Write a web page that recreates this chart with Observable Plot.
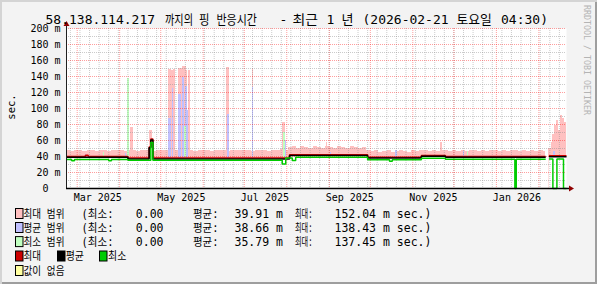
<!DOCTYPE html>
<html><head><meta charset="utf-8">
<script src="https://cdn.jsdelivr.net/npm/d3@7"></script>
<script src="https://cdn.jsdelivr.net/npm/@observablehq/plot@0.6"></script>
<style>
html,body{margin:0;padding:0;background:#f3f3f3;}
#chart{position:relative;width:597px;height:284px;background:#f3f3f3;overflow:hidden;
 box-shadow: inset 2px 2px 0 #d4d4d4, inset -2px -2px 0 #9e9e9e;}
#chart > svg{position:absolute;left:0;top:0;}
</style></head><body><div id="chart"></div>
<script>
// ---------------- data ----------------
const START = "2025-02-21T04:30Z";
const END = "2026-02-21T04:30Z";
const GAP_START = "2026-02-06T00:00Z";

// step lines (value holds from each time until the next)
const lineTimes = [
"2025-02-21T04:30Z","2025-02-25T00:00Z","2025-02-27T00:00Z","2025-03-07T00:00Z","2025-03-09T00:00Z",
"2025-03-24T00:00Z","2025-03-26T00:00Z","2025-04-07T00:00Z","2025-04-22T12:00Z","2025-04-23T18:00Z",
"2025-04-25T06:00Z","2025-07-28T16:00Z","2025-07-31T06:00Z","2025-08-03T00:00Z","2025-08-05T00:00Z",
"2025-08-07T12:00Z","2025-09-29T00:00Z","2025-10-15T00:00Z","2025-10-17T00:00Z","2025-11-07T06:00Z",
"2025-11-24T18:00Z","2026-01-14T12:00Z","2026-01-15T12:00Z","2026-02-06T00:00Z","2026-02-07T00:00Z",
"2026-02-08T09:00Z","2026-02-11T06:00Z","2026-02-14T04:30Z","2026-02-19T00:00Z","2026-02-21T04:30Z"];
const maxLine = [40.0,40.0,40.0,41.5,40.0, 40.0,40.0,38.0,51.8,62.0, 38.0,38.0,38.0,42.2,42.2,
                 42.2,39.0,39.0,39.0,41.3, 40.0,40.0,40.0,40.0,null, 41.0,41.0,41.0,41.0,41.0];
const avgLine = [39.0,39.0,39.0,39.0,39.0, 39.0,39.0,37.0,50.8,60.5, 37.0,37.0,37.0,41.2,41.2,
                 41.2,38.0,38.0,38.0,40.3, 39.0,39.0,39.0,39.0,null, 39.8,39.8,39.8,39.8,39.8];
const minLine = [36.2,34.8,36.2,36.2,36.2, 34.8,36.2,35.2,35.2,57.5, 35.2,30.5,38.0,38.0,35.0,
                 39.2,35.8,34.0,35.8,37.9, 36.5,0,36.5,36.5,null, 37.0,0,37.0,0,0];

// max-range envelope, one value per 3 days from START until the data gap
const pinkEvery3Days = [
47,46,48,47,46,48,47,46,48,47, 46,48,47,48,46,47,48,46,47,48,
49,46,47,48,47,46,48,47,46,47, 48,46,47,48,47,46,48,47,47,46,
48,47,48,47,48,46,47,48,47,46, 48,47,49,48,51,52,50,52,51,50,
52,51,50,52,51,50,52,51,50,52, 51,50,51,47,46,47,45,46,47,45,
46,47,46,45,47,46,47,48,46,47, 46,48,47,46,47,46,47,46,48,47,
46,47,46,48,47,46,47,46,47,48, 46,47,46,47,46,47,46];
// after the gap
const tailTimes = ["2026-02-08T09:00Z","2026-02-09T21:00Z","2026-02-11T06:00Z","2026-02-12T18:00Z",
  "2026-02-14T04:30Z","2026-02-15T16:00Z","2026-02-17T03:00Z","2026-02-18T14:00Z","2026-02-20T00:00Z"];
const tailPink = [50,58,68,79,85,72,91,87,83];

// short excursions of the three ranges
const spikeKind = [
"max","max","max","max","max","max","max","max","max","max","max","max","max","max",
"avg","avg","avg","avg","avg","avg","avg","avg","avg","avg","avg","avg","avg","avg","avg",
"min","min","min","min","min"];
const spikeFrom = [
"2025-04-09T03:00Z","2025-04-23T00:00Z","2025-05-06T20:00Z","2025-05-09T00:00Z","2025-05-10T12:00Z",
"2025-05-14T02:00Z","2025-05-17T00:00Z","2025-05-20T00:00Z","2025-05-21T10:00Z","2025-06-17T20:00Z",
"2025-07-06T20:00Z","2025-07-28T16:00Z","2025-08-30T00:00Z","2025-11-21T08:00Z",
"2025-03-07T00:00Z","2025-04-05T00:00Z","2025-05-06T20:00Z","2025-05-09T12:00Z","2025-05-13T14:00Z",
"2025-05-17T00:00Z","2025-05-18T22:00Z","2025-05-20T06:00Z","2025-06-18T12:00Z","2025-07-07T00:00Z",
"2025-07-30T12:00Z","2025-09-02T00:00Z","2025-10-19T00:00Z","2025-12-08T00:00Z","2026-02-11T12:00Z",
"2025-03-20T00:00Z","2025-04-07T00:00Z","2025-05-18T12:00Z","2025-07-29T10:00Z","2025-12-11T00:00Z"];
const spikeTo = [
"2025-04-10T22:00Z","2025-04-25T06:00Z","2025-05-09T00:00Z","2025-05-10T02:00Z","2025-05-11T22:00Z",
"2025-05-17T00:00Z","2025-05-20T00:00Z","2025-05-20T18:00Z","2025-05-22T22:00Z","2025-06-20T08:00Z",
"2025-07-07T22:00Z","2025-07-31T06:00Z","2025-08-31T00:00Z","2025-11-22T08:00Z",
"2025-03-08T00:00Z","2025-04-06T00:00Z","2025-05-09T00:00Z","2025-05-10T14:00Z","2025-05-16T12:00Z",
"2025-05-18T12:00Z","2025-05-20T06:00Z","2025-05-21T12:00Z","2025-06-20T08:00Z","2025-07-07T22:00Z",
"2025-07-31T12:00Z","2025-09-03T00:00Z","2025-10-20T12:00Z","2025-12-09T00:00Z","2026-02-13T00:00Z",
"2025-03-21T00:00Z","2025-04-08T12:00Z","2025-05-19T14:00Z","2025-07-30T22:00Z","2025-12-12T00:00Z"];
const spikeTop = [
76,72,149,147,149,150,152.04,148,147.5,151,150,83,58,58,
43,44,88,125,118,138.43,128,97,92,126,60,45,47,46,46,
45,137.45,78,70,46];

const yTickValues = [0,20,40,60,80,100,120,140,160,180,200];
const xLabelMonths = ["2025-03-01","2025-05-01","2025-07-01","2025-09-01","2025-11-01","2026-01-01"];

const titleParts = ["58.138.114.217","까지의","핑","반응시간","-","최근","1","년","(2026-02-21","토요일","04:30)"];
const legendNames = ["최대 범위","평균 범위","최소 범위"];
const statMin = [0.00, 0.00, 0.00];
const statAvg = [39.91, 38.66, 35.79];
const statMax = [152.04, 138.43, 137.45];
const lineNames = ["최대","평균","최소"];
const noDataName = "값이 없음";
const yUnitLabel = "sec.";
const watermark = "RRDTOOL / TOBI OETIKER";

// ---------------- styles ----------------
const AREA = {max: "#ffc0c0", avg: "#c0c0ff", min: "#c0ffc0"};
const LINE = {max: "#cc0000", avg: "#000000", min: "#00cc00"};
const NODATA = "#ffffa0";
const FONT = "'DejaVu Sans Mono', 'Noto Sans CJK KR', monospace";

// ---------------- build ----------------
const DAY = 864e5;
const t0 = new Date(START), t1 = new Date(END), tg = new Date(GAP_START);
const lineRows = lineTimes.map((t, i) => ({t: new Date(t), max: maxLine[i], avg: avgLine[i], min: minLine[i]}));

const rects = {max: [], avg: [], min: []};
pinkEvery3Days.forEach((v, i) => {
  const a = +t0 + 3 * i * DAY, b = Math.min(+t0 + 3 * (i + 1) * DAY, +tg);
  if (a < b) rects.max.push({x1: new Date(a), x2: new Date(b), base: 0, top: v});
});
tailTimes.forEach((t, i) => rects.max.push({x1: new Date(t), x2: i < tailTimes.length - 1 ? new Date(tailTimes[i + 1]) : t1, base: 0, top: tailPink[i]}));
spikeKind.forEach((k, i) => rects[k].push({x1: new Date(spikeFrom[i]), x2: new Date(spikeTo[i]), base: 0, top: spikeTop[i]}));

const labelTicks = xLabelMonths.map(m => new Date(+new Date(m + "T00:00Z") + 15 * DAY));
const weekly = d3.utcMonday.range(t0, t1);
const monthly = d3.utcMonth.range(t0, t1);
const minorH = d3.range(10, 200, 20);
const majorH = d3.range(20, 201, 20);

const rectMark = k => Plot.rect(rects[k], {x1: "x1", x2: "x2", y1: "base", y2: "top", fill: AREA[k], shapeRendering: "crispEdges"});
const lineMark = k => Plot.line(lineRows, {x: "t", y: k, curve: "step-after", stroke: LINE[k], strokeWidth: 1.5, strokeLinejoin: "miter", strokeLinecap: "butt"});

const plot = Plot.plot({
  width: 597, height: 210,
  marginLeft: 66, marginRight: 31, marginTop: 28, marginBottom: 22,
  style: {background: "transparent", fontFamily: FONT, fontSize: "10px", color: "black", overflow: "visible"},
  x: {type: "utc", domain: [t0, t1], label: null},
  y: {domain: [0, 200], label: null},
  marks: [
    Plot.frame({fill: "white", stroke: null}),
    rectMark("max"), rectMark("avg"), rectMark("min"),
    Plot.areaY(lineRows, {x: "t", y: "avg", curve: "step-after", fill: "white"}),
    Plot.ruleY(minorH, {stroke: "#8c8c8c", strokeOpacity: 0.45, strokeDasharray: "1,1"}),
    Plot.ruleX(weekly, {stroke: "#8c8c8c", strokeOpacity: 0.45, strokeDasharray: "1,1"}),
    Plot.ruleY(majorH, {stroke: "#ff0000", strokeOpacity: 0.38, strokeDasharray: "1,1"}),
    Plot.ruleX(monthly, {stroke: "#ff0000", strokeOpacity: 0.38, strokeDasharray: "1,1"}),
    lineMark("max"), lineMark("avg"), lineMark("min"),
    Plot.axisY({ticks: yTickValues, tickSize: 0, tickPadding: 6, label: null,
      tickFormat: d => d === 0 ? "0\u00a0\u00a0" : d + " m"}),
    Plot.axisX({ticks: labelTicks, tickSize: 0, tickPadding: 5, label: null, tickFormat: d3.utcFormat("%b %Y")})
  ]
});
document.getElementById("chart").appendChild(plot);

// axis lines & arrows derived from the scales
const xs = plot.scale("x"), ys = plot.scale("y");
const X0 = xs.apply(t0) + 0.5, X1 = xs.apply(t1), Y0 = ys.apply(0) + 0.5, YT = ys.apply(200);
const g = d3.select(plot).append("g");
g.append("line").attr("x1", X0).attr("x2", X0).attr("y1", Y0).attr("y2", YT - 3).attr("stroke", "#202020").attr("stroke-width", 1);
g.append("line").attr("x1", X0 - 0.5).attr("x2", X1 + 4).attr("y1", Y0).attr("y2", Y0).attr("stroke", "#000").attr("stroke-width", 1.5);
g.append("path").attr("d", `M${X1 + 3},${Y0 - 3}L${X1 + 8},${Y0}L${X1 + 3},${Y0 + 3}Z`).attr("fill", "#900000");
g.append("path").attr("d", `M${X0 - 3},${YT - 2}L${X0},${YT - 7}L${X0 + 3},${YT - 2}Z`).attr("fill", "#900000");

// ---------------- title, legend, side texts ----------------
const ov = d3.select("#chart").append("svg").attr("width", 597).attr("height", 284)
  .style("pointer-events", "none").attr("font-family", FONT);
// text at (x, y); when len is given the text is squeezed horizontally to that width
function txt(s, x, y, size, len, extra) {
  const t = ov.append("text").attr("font-size", size).attr("fill", "#000").text(s);
  if (len) {
    const w = t.node().getComputedTextLength() || len;
    t.attr("transform", `translate(${x},${y}) scale(${len / w},1)`);
  } else {
    t.attr("x", x).attr("y", y);
  }
  if (extra) extra(t);
  return t;
}
const titleX = [45.5, 165, 199, 216.5, 279.5, 292.5, 326.5, 341.5, 362.5, 456.5, 501];
const titleLen = [null, 28, 10.5, 40.5, null, 25.5, null, 12, null, 35.5, null];
titleParts.forEach((s, i) => txt(s, titleX[i], 24, 13, titleLen[i]));

txt(yUnitLabel, 0, 0, 10.5, null, t => t.attr("x", null).attr("y", null).attr("text-anchor", "middle").attr("transform", "translate(15,107) rotate(-90)"));
txt(watermark, 0, 0, 8.3, null, t => t.attr("x", null).attr("y", null).attr("fill", "#b4b4b4").attr("transform", "translate(584,5) rotate(90)"));

const rowY = [217.5, 231.5, 245.6, 260, 274.5];
const FS = 11.5;
function swatch(x, base, color) {
  ov.append("rect").attr("x", x).attr("y", base - 9).attr("width", 7.5).attr("height", 10)
    .attr("fill", color).attr("stroke", "#000").attr("stroke-width", 1);
}
const kinds = ["max", "avg", "min"];
legendNames.forEach((name, i) => {
  const b = rowY[i];
  swatch(15.5, b, AREA[kinds[i]]);
  txt(name, 23.5, b, FS, 41);
  txt("(최소:", 81.5, b, FS, 32);
  txt(statMin[i].toFixed(2), 163.5, b, FS, null, t => t.attr("text-anchor", "end"));
  txt("평균:", 193, b, FS, 25.5);
  txt(statAvg[i].toFixed(2) + " m", 234.5, b, FS);
  txt("최대:", 295, b, FS, 17.5);
  txt(statMax[i].toFixed(2) + " m sec.)", 334.5, b, FS);
});
const lineSwX = [15.5, 57.5, 99.5], lineTxX = [23.5, 65.7, 108], lineLen = [17.5, 18.3, 18.3];
lineNames.forEach((name, i) => {
  swatch(lineSwX[i], rowY[3], LINE[kinds[i]]);
  txt(name, lineTxX[i], rowY[3], FS, lineLen[i]);
});
swatch(15.5, rowY[4], NODATA);
txt(noDataName, 23.5, rowY[4], FS, 41);
</script></body></html>
